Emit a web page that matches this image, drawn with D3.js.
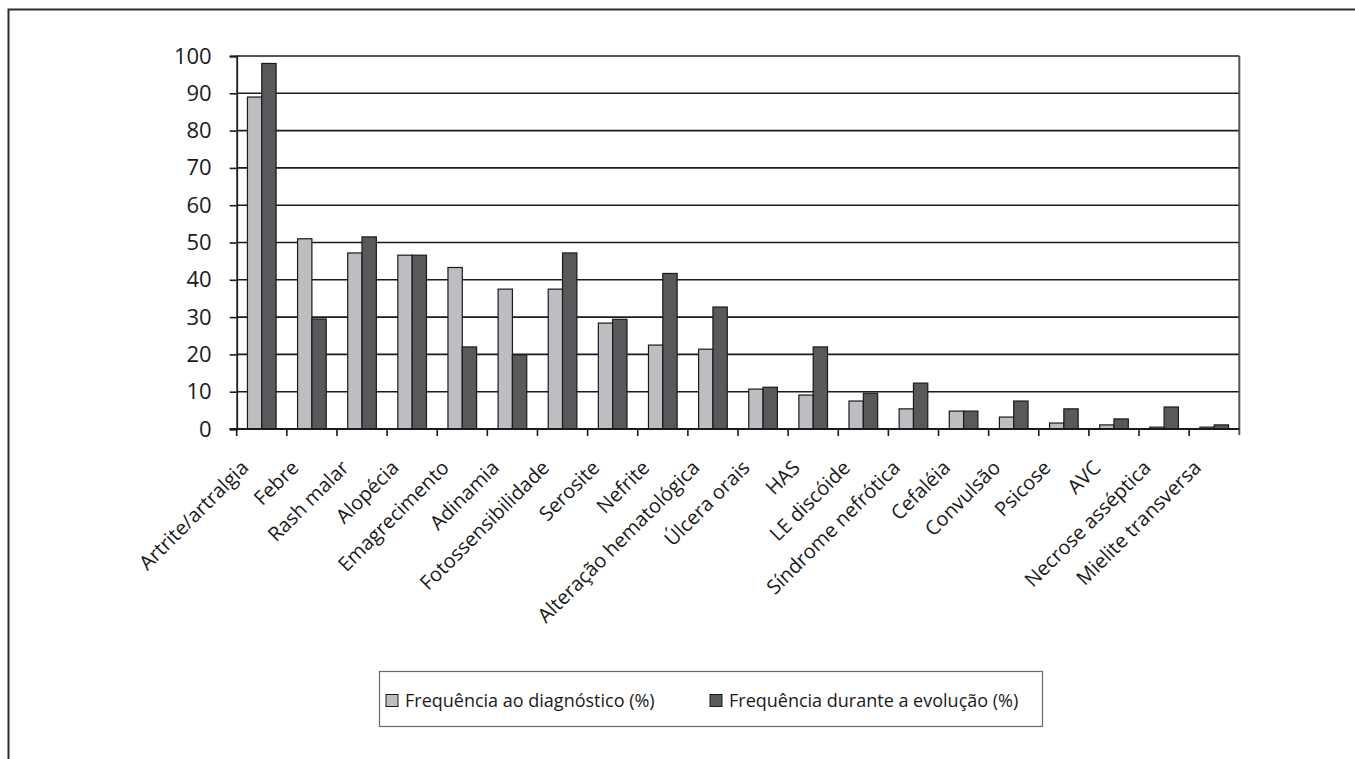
<!DOCTYPE html>
<html>
<head>
<meta charset="utf-8">
<script src="https://cdn.jsdelivr.net/npm/d3@7"></script>
<style>
  html, body { margin: 0; padding: 0; background: #fff; }
  svg { display: block; }
  text { font-family: "Open Sans", "Noto Sans", sans-serif; fill: #1a1a1a; }
</style>
</head>
<body>
<svg id="chart" width="1355" height="759"></svg>
<script>
// Manifestações clínicas: frequência ao diagnóstico e durante a evolução (%)
const categories = [
  "Artrite/artralgia", "Febre", "Rash malar", "Alopécia", "Emagrecimento",
  "Adinamia", "Fotossensibilidade", "Serosite", "Nefrite", "Alteração hematológica",
  "Úlcera orais", "HAS", "LE discóide", "Síndrome nefrótica", "Cefaléia",
  "Convulsão", "Psicose", "AVC", "Necrose asséptica", "Mielite transversa"
];
const atDiagnosis = [89, 51, 47.2, 46.6, 43.3, 37.5, 37.5, 28.4, 22.5, 21.4,
                     10.7, 9.1, 7.5, 5.4, 4.8, 3.2, 1.6, 1.1, 0.5, 0.5];
const duringCourse = [98, 29.5, 51.5, 46.6, 22, 19.9, 47.2, 29.4, 41.7, 32.7,
                      11.2, 22, 9.6, 12.3, 4.8, 7.5, 5.4, 2.7, 5.9, 1.1];
const seriesNames = ["Frequência ao diagnóstico (%)", "Frequência durante a evolução (%)"];
const seriesColors = ["#bdbec2", "#58595b"];
const yTicks = [0, 10, 20, 30, 40, 50, 60, 70, 80, 90, 100];

const svg = d3.select("#chart");

// outer frame (left and top edges)
svg.append("path")
  .attr("d", "M8.5,759 V9.5 H1355")
  .attr("fill", "none")
  .attr("stroke", "#2b2b2b")
  .attr("stroke-width", 2);

const plot = { left: 236.7, right: 1239.3, top: 56, bottom: 429 };

const x = d3.scaleBand()
  .domain(categories)
  .range([plot.left, plot.right])
  .paddingInner(3 / 7)
  .paddingOuter(1.5 / 7);

const xSub = d3.scaleBand()
  .domain([0, 1])
  .range([0, x.bandwidth()]);

const y = d3.scaleLinear().domain([0, 100]).range([plot.bottom, plot.top]);

// horizontal gridlines
svg.append("g")
  .selectAll("line")
  .data(yTicks.filter(d => d > 0))
  .join("line")
  .attr("x1", plot.left).attr("x2", plot.right)
  .attr("y1", d => y(d)).attr("y2", d => y(d))
  .attr("stroke", "#1a1a1a")
  .attr("stroke-width", 1.6);

// right edge of plot area
svg.append("line")
  .attr("x1", plot.right).attr("x2", plot.right)
  .attr("y1", plot.top).attr("y2", plot.bottom + 6)
  .attr("stroke", "#555")
  .attr("stroke-width", 2);

// bars
const rows = categories.map((c, i) => ({ c, v: [atDiagnosis[i], duringCourse[i]] }));
const groups = svg.append("g")
  .selectAll("g")
  .data(rows)
  .join("g")
  .attr("transform", d => `translate(${x(d.c)},0)`);

groups.selectAll("rect")
  .data(d => d.v.map((v, k) => ({ v, k })))
  .join("rect")
  .attr("x", d => xSub(d.k))
  .attr("width", xSub.bandwidth())
  .attr("y", d => y(d.v))
  .attr("height", d => y(0) - y(d.v))
  .attr("fill", d => seriesColors[d.k])
  .attr("stroke", "#1a1a1a")
  .attr("stroke-width", 1.2);

// y axis
const yAxis = svg.append("g")
  .attr("transform", `translate(${plot.left},0)`)
  .call(d3.axisLeft(y).tickValues(yTicks).tickSize(7).tickPadding(18).tickFormat(d3.format("d")));
yAxis.select(".domain").attr("stroke", "#1a1a1a").attr("stroke-width", 1.8);
yAxis.selectAll(".tick line").attr("stroke", "#1a1a1a").attr("stroke-width", 1.6);
yAxis.selectAll(".tick text")
  .attr("font-family", "'Open Sans', sans-serif")
  .attr("font-size", 22)
  .attr("fill", "#1a1a1a");

// x axis: baseline plus tick marks at category boundaries
const step = x.step();
const boundaries = d3.range(categories.length).map(i => plot.left + i * step);
svg.append("line")
  .attr("x1", plot.left - 7).attr("x2", plot.right)
  .attr("y1", plot.bottom).attr("y2", plot.bottom)
  .attr("stroke", "#1a1a1a").attr("stroke-width", 1.8);
svg.append("g")
  .selectAll("line")
  .data(boundaries)
  .join("line")
  .attr("x1", d => d).attr("x2", d => d)
  .attr("y1", plot.bottom).attr("y2", plot.bottom + 7)
  .attr("stroke", "#1a1a1a").attr("stroke-width", 1.6);

// rotated category labels
svg.append("g")
  .selectAll("text")
  .data(categories)
  .join("text")
  .attr("transform", d => `translate(${x(d) + x.bandwidth() / 2 - 12},469) rotate(-45)`)
  .attr("text-anchor", "end")
  .attr("font-size", 20)
  .text(d => d);

// legend
const legend = svg.append("g");
legend.append("rect")
  .attr("x", 379.5).attr("y", 671.5)
  .attr("width", 663).attr("height", 55)
  .attr("fill", "#fff")
  .attr("stroke", "#6a6a6a")
  .attr("stroke-width", 1.2);

const legendX = [386, 710];
seriesNames.forEach((name, k) => {
  legend.append("rect")
    .attr("x", legendX[k]).attr("y", 694.5)
    .attr("width", 12).attr("height", 12)
    .attr("fill", seriesColors[k])
    .attr("stroke", "#1a1a1a")
    .attr("stroke-width", 1);
  legend.append("text")
    .attr("x", legendX[k] + 19).attr("y", 707)
    .attr("font-size", 18)
    .text(name);
});
</script>
</body>
</html>
